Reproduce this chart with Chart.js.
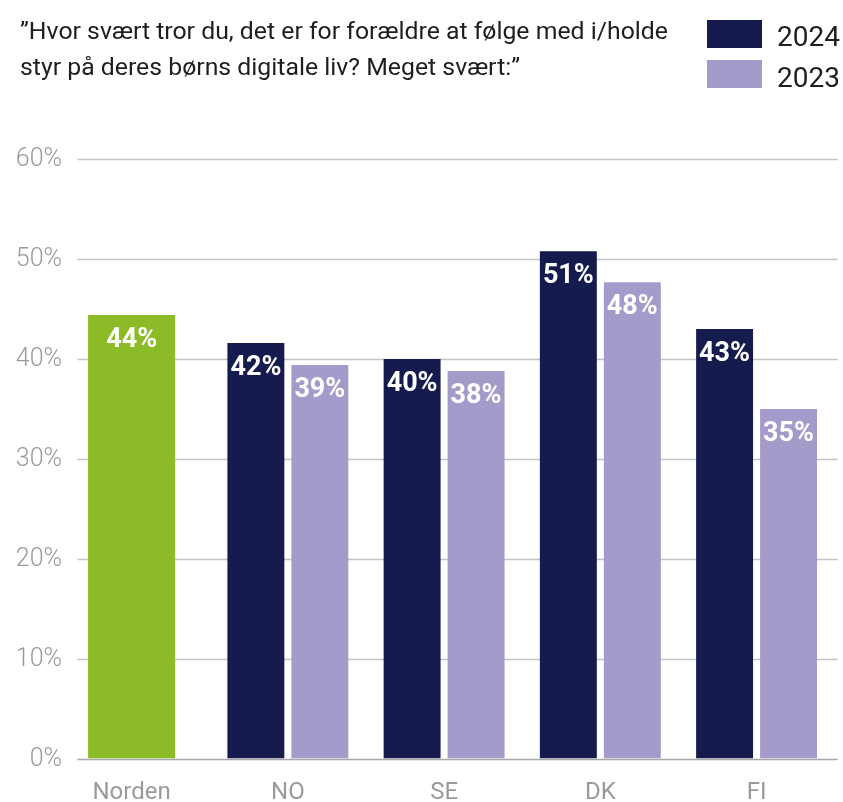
<!DOCTYPE html>
<html>
<head>
<meta charset="utf-8">
<script src="https://cdn.jsdelivr.net/npm/chart.js@4.4.1/dist/chart.umd.min.js"></script>
<style>
  html, body { margin: 0; padding: 0; background: #fff; }
  #wrap { position: relative; width: 843px; height: 802px; overflow: hidden; }
  #chart { position: absolute; left: 0; top: 0; }
  #title {
    position: absolute; left: 20px; top: 13px;
    font: 24px Roboto, "Noto Sans", sans-serif; line-height: 36px;
    color: #1e1e1e; white-space: nowrap; transform-origin: left top;
  }
  .leg-box { position: absolute; left: 707px; width: 55px; height: 28px; }
  .leg-text { position: absolute; left: 777px; font: 28px Roboto, sans-serif; line-height: 28px; color: #1e1e1e; }
</style>
</head>
<body>
<div id="wrap">
  <canvas id="chart" width="843" height="802"></canvas>
  <div id="title"><span id="t1">”Hvor svært tror du, det er for forældre at følge med i/holde</span><br><span>styr på deres børns digitale liv? Meget svært:”</span></div>
  <div id="legend"></div>
</div>
<script>
// Data
const categories = ["Norden", "NO", "SE", "DK", "FI"];
const nordenValues = [44.4, null, null, null, null];
const values2024 = [null, 41.6, 40.0, 50.8, 43.0];
const values2023 = [null, 39.4, 38.8, 47.7, 35.0];
// Percentages printed on the bars
const shownNorden = [44, null, null, null, null];
const shown2024 = [null, 42, 40, 51, 43];
const shown2023 = [null, 39, 38, 48, 35];
const yTicks = [0, 10, 20, 30, 40, 50, 60];

const GREEN = "#8bbb27";
const NAVY = "#161b4e";
const LAVENDER = "#a49bcb";

// Squeeze the title to the width of the original condensed face
const title = document.getElementById("title");
const t1 = document.getElementById("t1");
title.style.transform = "scaleX(" + (648 / t1.getBoundingClientRect().width) + ")";

// Gridlines and y labels, drawn by hand so the lines can start right of the labels
const gridPlugin = {
  id: "grid",
  beforeDatasetsDraw(chart) {
    const { ctx, chartArea, scales } = chart;
    ctx.save();
    ctx.font = "300 25px Roboto, sans-serif";
    ctx.textAlign = "right";
    ctx.textBaseline = "middle";
    ctx.fillStyle = "#9a9a9a";
    scales.y.ticks.forEach(t => {
      const y = Math.round(scales.y.getPixelForValue(t.value)) + 0.5;
      ctx.strokeStyle = t.value === 0 ? "#a8a8a8" : "#c4c4c4";
      ctx.lineWidth = 1.5;
      ctx.beginPath();
      ctx.moveTo(chartArea.left + 24, y);
      ctx.lineTo(chartArea.right + 3, y);
      ctx.stroke();
      ctx.fillText(t.value + "%", chartArea.left + 8.5, y);
    });
    ctx.restore();
  }
};

// White percentages inside the top of each bar
const barLabelPlugin = {
  id: "barLabels",
  afterDatasetsDraw(chart) {
    const { ctx } = chart;
    ctx.save();
    ctx.fillStyle = "#fff";
    ctx.font = "bold 27px Roboto, sans-serif";
    ctx.textAlign = "center";
    ctx.textBaseline = "middle";
    chart.data.datasets.forEach((ds, i) => {
      chart.getDatasetMeta(i).data.forEach((bar, j) => {
        if (ds.shown[j] == null) return;
        ctx.fillText(ds.shown[j] + "%", bar.x, bar.y + 25);
      });
    });
    ctx.restore();
  }
};

const chart = new Chart(document.getElementById("chart"), {
  type: "bar",
  data: {
    labels: categories,
    datasets: [
      {
        label: "Norden", data: nordenValues, shown: shownNorden,
        backgroundColor: GREEN, grouped: false,
        categoryPercentage: 1, barPercentage: 0.557
      },
      {
        label: "2024", data: values2024, shown: shown2024,
        backgroundColor: NAVY, categoryPercentage: 0.819, barPercentage: 0.89
      },
      {
        label: "2023", data: values2023, shown: shown2023,
        backgroundColor: LAVENDER, categoryPercentage: 0.819, barPercentage: 0.89
      }
    ]
  },
  options: {
    responsive: false,
    animation: false,
    layout: { padding: { left: 17.5, right: 8.3, top: 159.3, bottom: 0 } },
    plugins: {
      legend: { display: false },
      title: { display: false },
      tooltip: { enabled: false }
    },
    scales: {
      x: {
        grid: { display: false, drawTicks: false },
        border: { display: false },
        ticks: { color: "#9a9a9a", font: { family: "Roboto", size: 24 }, padding: 20 },
        afterFit(scale) { scale.height = 43.5; }
      },
      y: {
        min: 0, max: 60,
        afterBuildTicks(scale) { scale.ticks = yTicks.map(v => ({ value: v })); },
        grid: { display: false, drawTicks: false },
        border: { display: false },
        ticks: { display: false },
        afterFit(scale) { scale.width = 36; }
      }
    }
  },
  plugins: [gridPlugin, barLabelPlugin]
});

// Legend for the two years, built from the datasets
const legend = document.getElementById("legend");
chart.data.datasets.slice(1).forEach((ds, i) => {
  const box = document.createElement("div");
  box.className = "leg-box";
  box.style.top = (20 + i * 40) + "px";
  box.style.background = ds.backgroundColor;
  const txt = document.createElement("div");
  txt.className = "leg-text";
  txt.style.top = (23 + i * 41) + "px";
  txt.textContent = ds.label;
  legend.appendChild(box);
  legend.appendChild(txt);
});
</script>
</body>
</html>
